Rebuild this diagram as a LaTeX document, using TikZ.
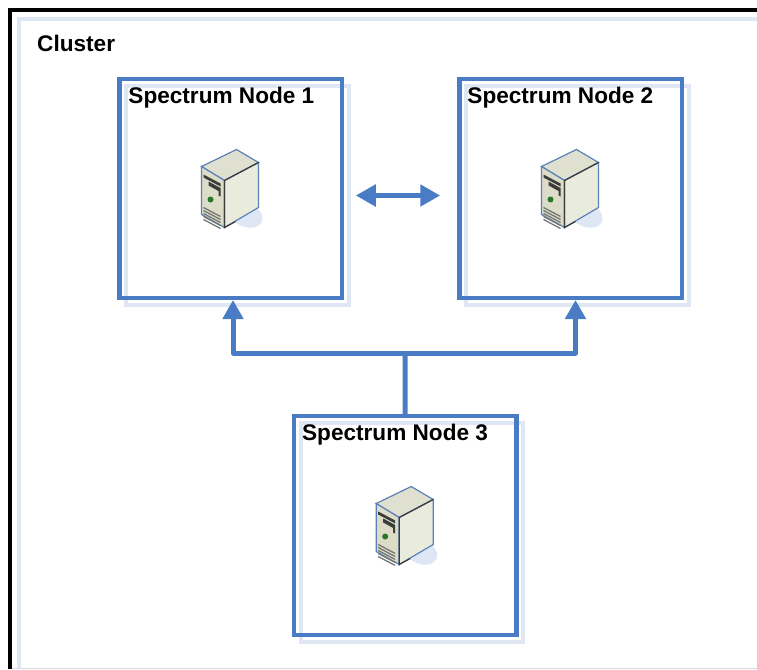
\documentclass[tikz,border=0pt]{standalone}
\usepackage{fontspec}
\setmainfont{Liberation Sans}
\usetikzlibrary{arrows.meta}
\usetikzlibrary{positioning}
\usetikzlibrary{shadows}

\definecolor{linkblue}{HTML}{4A7CC6}
\definecolor{paleblue}{HTML}{DFE7F5}
\definecolor{casetop}{HTML}{DFE0D0}
\definecolor{casefront}{HTML}{DCDCC9}
\definecolor{caseside}{HTML}{E9EBDD}
\definecolor{caseedge}{HTML}{5B82B8}
\definecolor{casedark}{HTML}{3A3D38}

\tikzset{
    specnode/.style={draw=linkblue, line width=4.5pt, minimum width=222.5pt, minimum height=219pt, outer sep=0pt,
        copy shadow={shadow xshift=7pt, shadow yshift=-7pt, draw=paleblue, line width=4pt, fill=none}},
    speclabel/.style={anchor=base west, inner sep=0pt, font=\fontsize{22.6pt}{24pt}\selectfont\bfseries},
    flowline/.style={draw=linkblue, line width=5pt, line join=round},
    pics/server/.style={code={
        \fill[paleblue, rotate around={-25:(15,26)}] (15,26) ellipse (18 and 12);
        \filldraw[draw=caseedge, line width=1.2pt, fill=casetop] (-29,-22) -- (6,-39) -- (28,-26) -- (-6,-8) -- cycle;
        \filldraw[draw=caseedge, line width=1.2pt, fill=casefront] (-29,-22) -- (-6,-8) -- (-6,39) -- (-29,26) -- cycle;
        \filldraw[draw=caseedge, line width=1.2pt, fill=caseside] (-6,-8) -- (28,-26) -- (28,19) -- (-6,39) -- cycle;
        \draw[casedark, line width=1.2pt] (28,-26) -- (-6,-8) -- (-6,39) -- (5,33);
        \fill[casedark] (-27,-14) -- (-10,-5) -- (-10,-2) -- (-27,-11) -- cycle;
        \fill[casedark] (-22,-7) -- (-10,-0.5) -- (-10,8) -- (-12,7) -- (-12,2.5) -- (-22,-3) -- cycle;
        \fill[casedark!70!green] (-20,11) circle (3);
        \foreach \k in {0,3,6,9,12}
            \draw[casedark!70, line width=1.3pt] (-27,19+\k) -- (-10,28+\k);
    }}
}

\begin{document}
\begin{tikzpicture}[x=1pt, y=-1pt]
        \useasboundingbox (0,0) rectangle (757,669);

        % cluster frame, open to the right
        \coordinate (frameA) at (10.3,669);
        \coordinate (frameB) at (10.3,10.3);
        \coordinate (frameC) at (757,10.3);
        \coordinate (paleA) at (19,669);
        \coordinate (paleB) at (19,19);
        \coordinate (paleC) at (757,19);
        \coordinate (edgeA) at (12,668.5);
        \coordinate (edgeB) at (757,668.5);
        \draw[paleblue, line width=4.5pt] (paleA) -- (paleB) -- (paleC);
        \draw[black!15, line width=1pt] (edgeA) -- (edgeB);
        \draw[black, line width=4pt] (frameA) -- (frameB) -- (frameC);
        \node[speclabel] (cluster) at (37,52) {Cluster};

        \node[specnode]                     (n1) at (230.5,188.5) {};
        \node[specnode, right=117.5pt of n1]  (n2) {};
        \node[specnode]                     (n3) at (405.2,525.5) {};

        \node[speclabel] (l1) at ([xshift=9pt, yshift=-24pt]n1.north west) {Spectrum Node 1};
        \node[speclabel] (l2) at ([xshift=8pt, yshift=-24pt]n2.north west) {Spectrum Node 2};
        \node[speclabel] (l3) at ([xshift=8pt, yshift=-24pt]n3.north west) {Spectrum Node 3};

        \pic (s1) at (n1.center) {server};
        \pic (s2) at (n2.center) {server};
        \pic (s3) at (n3.center) {server};

        % links
        \coordinate (hub) at (405,353);
        \draw[flowline] (n3.north) -- (hub);
        \draw[flowline, -{Triangle[length=19pt,width=20pt]}] (hub) -| ([xshift=2.5pt, yshift=-2pt]n1.south);
        \draw[flowline, -{Triangle[length=19pt,width=20pt]}] (hub) -| ([xshift=5pt, yshift=-2pt]n2.south);
        \draw[flowline, {Triangle[length=20pt,width=21pt]}-{Triangle[length=20pt,width=21pt]}]
            ([xshift=14pt, yshift=-7pt]n1.east) -- ([xshift=-19pt, yshift=-7pt]n2.west);
\end{tikzpicture}
\end{document}
